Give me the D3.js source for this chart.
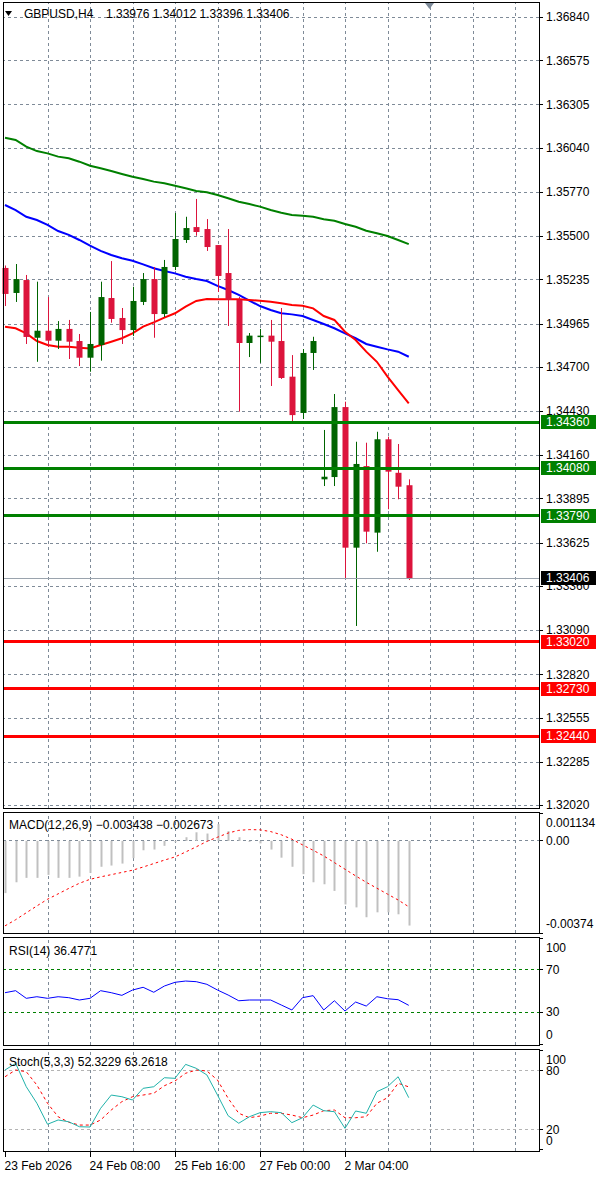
<!DOCTYPE html>
<html>
<head>
<meta charset="utf-8">
<script src="https://cdnjs.cloudflare.com/ajax/libs/d3/7.8.5/d3.min.js"></script>
<style>
body { margin: 0; background: #fff; }
svg text { font-family: "Liberation Sans", Arial, sans-serif; font-size: 12px; fill: #000; }
.grid .domain { display: none; }
.grid line { stroke: #7f8b98; stroke-dasharray: 3,3; shape-rendering: crispEdges; }
.axis .domain { display: none; }
.axis line { stroke: #000; shape-rendering: crispEdges; }
</style>
</head>
<body>
<svg id="container" width="600" height="1177"></svg>
<script>
// ---- data (H4 bars, 23 Feb 2026 00:00 .. 3 Mar 2026 04:00)
var opens  = [1.35305,1.35152,1.35231,1.34878,1.34921,1.34860,1.34932,1.34858,1.34756,1.34834,1.35121,1.34999,1.34925,1.35097,1.35237,1.35023,1.35311,1.35476,1.35555,1.35543,1.35445,1.35274,1.35109,1.34846,1.34884,1.34891,1.34858,1.34640,1.34418,1.34785,1.34012,1.34026,1.34454,1.33594,1.34093,1.33686,1.34257,1.34052,1.33976];
var highs  = [1.35320,1.35329,1.35262,1.35221,1.35127,1.34980,1.34987,1.34901,1.35036,1.35221,1.35347,1.35060,1.35190,1.35274,1.35311,1.35354,1.35641,1.35618,1.35727,1.35604,1.35445,1.35543,1.35127,1.34907,1.34932,1.34987,1.35060,1.34772,1.34809,1.34884,1.34314,1.34534,1.34487,1.34242,1.34236,1.34303,1.34273,1.34228,1.34012];
var lows   = [1.35072,1.35097,1.34840,1.34731,1.34821,1.34809,1.34748,1.34705,1.34670,1.34738,1.34970,1.34840,1.34889,1.35078,1.34878,1.35005,1.35292,1.35458,1.35502,1.35409,1.35158,1.34950,1.34426,1.34760,1.34725,1.34583,1.34626,1.34364,1.34381,1.34681,1.33971,1.33971,1.33407,1.33115,1.33621,1.33569,1.33829,1.33890,1.33396];
var closes = [1.35146,1.35237,1.34883,1.34921,1.34860,1.34932,1.34854,1.34756,1.34840,1.35127,1.34993,1.34925,1.35103,1.35237,1.35023,1.35311,1.35482,1.35549,1.35525,1.35433,1.35256,1.35109,1.34846,1.34891,1.34891,1.34854,1.34632,1.34405,1.34785,1.34858,1.34028,1.34454,1.33594,1.34106,1.33692,1.34257,1.34059,1.33967,1.33406];

var maGreen = [1.36102,1.36088,1.36047,1.36020,1.36006,1.35986,1.35976,1.35955,1.35930,1.35915,1.35898,1.35880,1.35863,1.35849,1.35833,1.35823,1.35808,1.35792,1.35776,1.35768,1.35751,1.35731,1.35710,1.35696,1.35680,1.35659,1.35643,1.35629,1.35625,1.35618,1.35603,1.35594,1.35574,1.35557,1.35533,1.35517,1.35500,1.35476,1.35451];
var maBlue  = [1.35690,1.35659,1.35618,1.35598,1.35568,1.35531,1.35507,1.35476,1.35441,1.35409,1.35384,1.35364,1.35349,1.35327,1.35303,1.35286,1.35272,1.35251,1.35237,1.35225,1.35195,1.35170,1.35140,1.35105,1.35072,1.35048,1.35028,1.35021,1.35011,1.34987,1.34962,1.34936,1.34905,1.34875,1.34840,1.34823,1.34807,1.34793,1.34762];
var maRed   = [1.34946,1.34936,1.34905,1.34858,1.34834,1.34823,1.34823,1.34817,1.34813,1.34834,1.34854,1.34875,1.34905,1.34946,1.34972,1.35001,1.35028,1.35068,1.35103,1.35115,1.35113,1.35113,1.35113,1.35109,1.35105,1.35098,1.35089,1.35078,1.35074,1.35058,1.35011,1.34987,1.34915,1.34864,1.34793,1.34731,1.34640,1.34558,1.34477];

var macdMain   = [-0.00212,-0.00168,-0.00150,-0.00150,-0.00138,-0.00150,-0.00150,-0.00145,-0.00130,-0.00105,-0.00100,-0.00092,-0.00070,-0.00038,-0.00035,-0.00020,-0.00005,0.00015,0.00035,0.00030,0.00068,0.00040,0.00015,-0.00004,-0.00010,-0.00035,-0.00068,-0.00105,-0.00135,-0.00168,-0.00176,-0.00203,-0.00258,-0.00270,-0.00310,-0.00290,-0.00290,-0.00298,-0.003438];
var macdSignal = [-0.00345,-0.00320,-0.00292,-0.00264,-0.00237,-0.00215,-0.00193,-0.00172,-0.00156,-0.00146,-0.00137,-0.00128,-0.00119,-0.00106,-0.00092,-0.00078,-0.00065,-0.00045,-0.00024,-0.00002,0.00015,0.00032,0.00043,0.00046,0.00045,0.00038,0.00025,0.00007,-0.00016,-0.00038,-0.00061,-0.00088,-0.00115,-0.00142,-0.00168,-0.00192,-0.00216,-0.00240,-0.002673];

var rsi = [48.4,50.3,43.1,44.6,43.1,44.6,43.7,41.5,43.1,50.3,48.4,45.9,50.9,53.5,48.8,54.7,58.2,59.4,58.8,56.3,50.9,46.2,40.8,41.5,41.5,41.5,36.8,32.1,43.7,45.6,32.1,40.8,31.1,39.6,35.8,44.6,42.7,41.8,36.4771];

var stochMain   = [80.3,87.0,63.4,46.7,25.5,29.8,28.0,23.0,22.7,41.6,55.0,53.3,50.0,61.8,63.4,72.5,71.9,86.0,82.0,75.3,55.0,34.1,26.5,33.1,37.2,38.2,37.2,27.1,32.1,44.9,39.2,38.2,21.4,38.9,36.6,58.4,63.4,73.5,52.3229];
var stochSignal = [73.5,80.3,78.6,65.1,46.7,33.1,27.5,24.7,24.7,29.8,39.9,48.3,53.3,55.0,56.8,64.4,69.2,77.0,80.3,79.3,70.2,51.7,36.6,32.1,33.8,36.6,36.6,34.8,32.1,34.8,39.2,39.9,32.1,32.1,33.1,46.7,52.3,66.9,63.2618];

var priceTicks = [1.36840,1.36575,1.36305,1.36040,1.35770,1.35500,1.35235,1.34965,1.34700,1.34430,1.34160,1.33895,1.33625,1.33360,1.33090,1.32820,1.32555,1.32285,1.32020];
var resistLevels = [1.34360, 1.34080, 1.33790];
var supportLevels = [1.33020, 1.32730, 1.32440];
var timeTickIdx = [0, 8, 16, 24, 32];
var timeTickLabels = ["23 Feb 2026", "24 Feb 08:00", "25 Feb 16:00", "27 Feb 00:00", "2 Mar 04:00"];
var macdTicks = [0.001134, 0, -0.00374];
var macdTickLabels = ["0.001134", "0.00", "-0.00374"];

var bars = opens.map(function(o, i){
    return {i: i, open: o, high: highs[i], low: lows[i], close: closes[i]};
});

// ---- layout
var svg = d3.select("#container");
var left = 3, right = 539;
var main = {top: 2, bot: 808},
    pMacd = {top: 812, bot: 933},
    pRsi = {top: 937, bot: 1045},
    pSto = {top: 1049, bot: 1151};

var x = d3.scaleLinear().domain([0, 48]).range([5, 515]);
var gridIdx = d3.range(4, 52, 4);
var yMain = d3.scaleLinear().domain([1.32020, 1.36840]).range([805, 17]);
var yMacd = d3.scaleLinear().domain([-0.00374, 0.001134]).range([933, 813]);
var yRsi = d3.scaleLinear().domain([0, 100]).range([1044, 938]);
var ySto = d3.scaleLinear().domain([0, 100]).range([1149.5, 1050.5]);

var GRN = "#006400", RED = "#dc143c";

//vertical grid for a panel
function vGrid(p){
    svg.append("g").attr("class", "grid")
        .attr("transform", "translate(0," + p.bot + ")")
        .call(d3.axisBottom(x).tickValues(gridIdx).tickSize(-(p.bot - p.top)).tickFormat(""));
}
function hLine(y, color, dash, width){
    svg.append("line")
        .attr("x1", left).attr("x2", right)
        .attr("y1", y).attr("y2", y)
        .attr("stroke", color)
        .attr("stroke-width", width || 1)
        .attr("stroke-dasharray", dash)
        .attr("shape-rendering", "crispEdges");
}
function border(p){
    svg.append("rect")
        .attr("x", left + 0.5).attr("y", p.top + 0.5)
        .attr("width", right - left).attr("height", p.bot - p.top)
        .attr("fill", "none").attr("stroke", "#000");
}
function sideLabels(vals, labels, scale, p){
    var g = svg.append("g");
    vals.forEach(function(v, k){
        var yy = scale(v);
        var dy = "0.35em";
        if (Math.abs(yy - p.top) < 12) dy = "1.15em";
        if (Math.abs(yy - p.bot) < 12) dy = "-0.4em";
        g.append("line").attr("x1", right).attr("x2", right + 4)
            .attr("y1", yy).attr("y2", yy).attr("stroke", "#000")
            .attr("shape-rendering", "crispEdges");
        g.append("text").attr("x", right + 7).attr("y", yy).attr("dy", dy).text(labels[k]);
    });
}

// ================= main price panel
vGrid(main);
svg.append("g").attr("class", "grid")
    .attr("transform", "translate(" + right + ",0)")
    .call(d3.axisLeft(yMain).tickValues(priceTicks).tickSize(right - left).tickFormat(""));

// shift marker
svg.append("path")
    .attr("d", d3.line()([[x(40) - 5, 3], [x(40) + 4, 3], [x(40) - 0.5, 9]]))
    .attr("fill", "#7d8a99");

// moving averages
var maLine = d3.line().x(function(d, i){ return x(i); }).y(function(d){ return yMain(d); });
[[maGreen, "#008000"], [maBlue, "#0000ff"], [maRed, "#ff0000"]].forEach(function(m){
    svg.append("path").datum(m[0])
        .attr("d", maLine)
        .attr("fill", "none")
        .attr("stroke", m[1])
        .attr("stroke-width", 2);
});

// draw high and low
svg.selectAll(".stem").data(bars).enter().append("line")
    .attr("class", "stem")
    .attr("x1", function(d){ return Math.round(x(d.i)) + 0.5; })
    .attr("x2", function(d){ return Math.round(x(d.i)) + 0.5; })
    .attr("y1", function(d){ return yMain(d.high); })
    .attr("y2", function(d){ return yMain(d.low); })
    .attr("stroke", function(d){ return d.close >= d.open ? GRN : RED; });

// draw rectangles
svg.selectAll(".candle").data(bars).enter().append("rect")
    .attr("class", "candle")
    .attr("x", function(d){ return Math.round(x(d.i)) - 2.5; })
    .attr("width", 6)
    .attr("y", function(d){ return yMain(Math.max(d.open, d.close)); })
    .attr("height", function(d){ return Math.max(1.5, yMain(Math.min(d.open, d.close)) - yMain(Math.max(d.open, d.close))); })
    .attr("fill", function(d){ return d.close >= d.open ? GRN : RED; });

// support / resistance lines
resistLevels.forEach(function(v){ hLine(yMain(v), "#008000", null, 3); });
supportLevels.forEach(function(v){ hLine(yMain(v), "#ff0000", null, 3); });

// bid line
var last = bars[bars.length - 1];
hLine(yMain(last.close), "#9aa3ad", null, 1);

border(main);

// price axis
svg.append("g").attr("class", "axis")
    .attr("transform", "translate(" + right + ",0)")
    .call(d3.axisRight(yMain).tickValues(priceTicks).tickSize(4).tickPadding(3).tickFormat(d3.format(".5f")));

// price tags
var tags = resistLevels.map(function(v){ return {v: v, c: "#008000"}; })
    .concat(supportLevels.map(function(v){ return {v: v, c: "#ff0000"}; }))
    .concat([{v: last.close, c: "#000"}]);
var tg = svg.selectAll(".tag").data(tags).enter().append("g").attr("class", "tag");
tg.append("rect")
    .attr("x", right + 2).attr("width", 55)
    .attr("y", function(d){ return Math.round(yMain(d.v)) - 7; })
    .attr("height", 14)
    .attr("fill", function(d){ return d.c; });
tg.append("text")
    .attr("x", right + 7)
    .attr("y", function(d){ return Math.round(yMain(d.v)); })
    .attr("dy", "0.36em")
    .style("fill", "#fff")
    .text(function(d){ return d3.format(".5f")(d.v); });

// header
svg.append("path")
    .attr("d", d3.line()([[5, 11], [12, 11], [8.5, 16]]))
    .attr("fill", "#000");
svg.append("text").attr("x", 24).attr("y", 18).text("GBPUSD,H4");
svg.append("text").attr("x", 106).attr("y", 18)
    .text([last.open, last.high, last.low, last.close].map(d3.format(".5f")).join(" "));

// ================= MACD
vGrid(pMacd);
hLine(yMacd(0), "#7f8b98", "3,3");
svg.selectAll(".hist").data(macdMain).enter().append("line")
    .attr("class", "hist")
    .attr("x1", function(d, i){ return Math.round(x(i)) + 0.5; })
    .attr("x2", function(d, i){ return Math.round(x(i)) + 0.5; })
    .attr("y1", yMacd(0))
    .attr("y2", function(d){ return yMacd(d); })
    .attr("stroke", "#c0c0c0")
    .attr("stroke-width", 2);
svg.append("path").datum(macdSignal)
    .attr("d", d3.line().x(function(d, i){ return x(i); }).y(function(d){ return yMacd(d); }))
    .attr("fill", "none").attr("stroke", "#ff0000").attr("stroke-dasharray", "2.5,3");
border(pMacd);
sideLabels(macdTicks, macdTickLabels, yMacd, pMacd);
svg.append("text").attr("x", 9).attr("y", 829)
    .text("MACD(12,26,9) " + d3.format(".6f")(macdMain[macdMain.length - 1]) + " " + d3.format(".6f")(macdSignal[macdSignal.length - 1]));

// ================= RSI
vGrid(pRsi);
[70, 30].forEach(function(v){ hLine(yRsi(v), "#008000", "3,3"); });
svg.append("path").datum(rsi)
    .attr("d", d3.line().x(function(d, i){ return x(i); }).y(function(d){ return yRsi(d); }))
    .attr("fill", "none").attr("stroke", "#0000ff").attr("stroke-width", 1);
border(pRsi);
sideLabels([100, 70, 30, 0], ["100", "70", "30", "0"], yRsi, pRsi);
svg.append("text").attr("x", 9).attr("y", 955).text("RSI(14) " + rsi[rsi.length - 1].toFixed(4));

// ================= Stochastic
vGrid(pSto);
[80, 20].forEach(function(v){ hLine(ySto(v), "#b4b4b4", "3,3"); });
svg.append("path").datum(stochSignal)
    .attr("d", d3.line().x(function(d, i){ return x(i); }).y(function(d){ return ySto(d); }))
    .attr("fill", "none").attr("stroke", "#ff0000").attr("stroke-dasharray", "3,3");
svg.append("path").datum(stochMain)
    .attr("d", d3.line().x(function(d, i){ return x(i); }).y(function(d){ return ySto(d); }))
    .attr("fill", "none").attr("stroke", "#20b2aa").attr("stroke-width", 1);
border(pSto);
sideLabels([100, 80, 20, 0], ["100", "80", "20", "0"], ySto, pSto);
svg.append("text").attr("x", 9).attr("y", 1066)
    .text("Stoch(5,3,3) " + stochMain[stochMain.length - 1].toFixed(4) + " " + stochSignal[stochSignal.length - 1].toFixed(4));

// ================= time axis
var tAxis = svg.append("g").attr("class", "axis")
    .attr("transform", "translate(0," + (pSto.bot + 1) + ")")
    .call(d3.axisBottom(x).tickValues(timeTickIdx).tickSize(5).tickPadding(4)
        .tickFormat(function(d){ return timeTickLabels[timeTickIdx.indexOf(d)]; }));
tAxis.selectAll("text").attr("text-anchor", "start").attr("dx", -1);
</script>
</body>
</html>
